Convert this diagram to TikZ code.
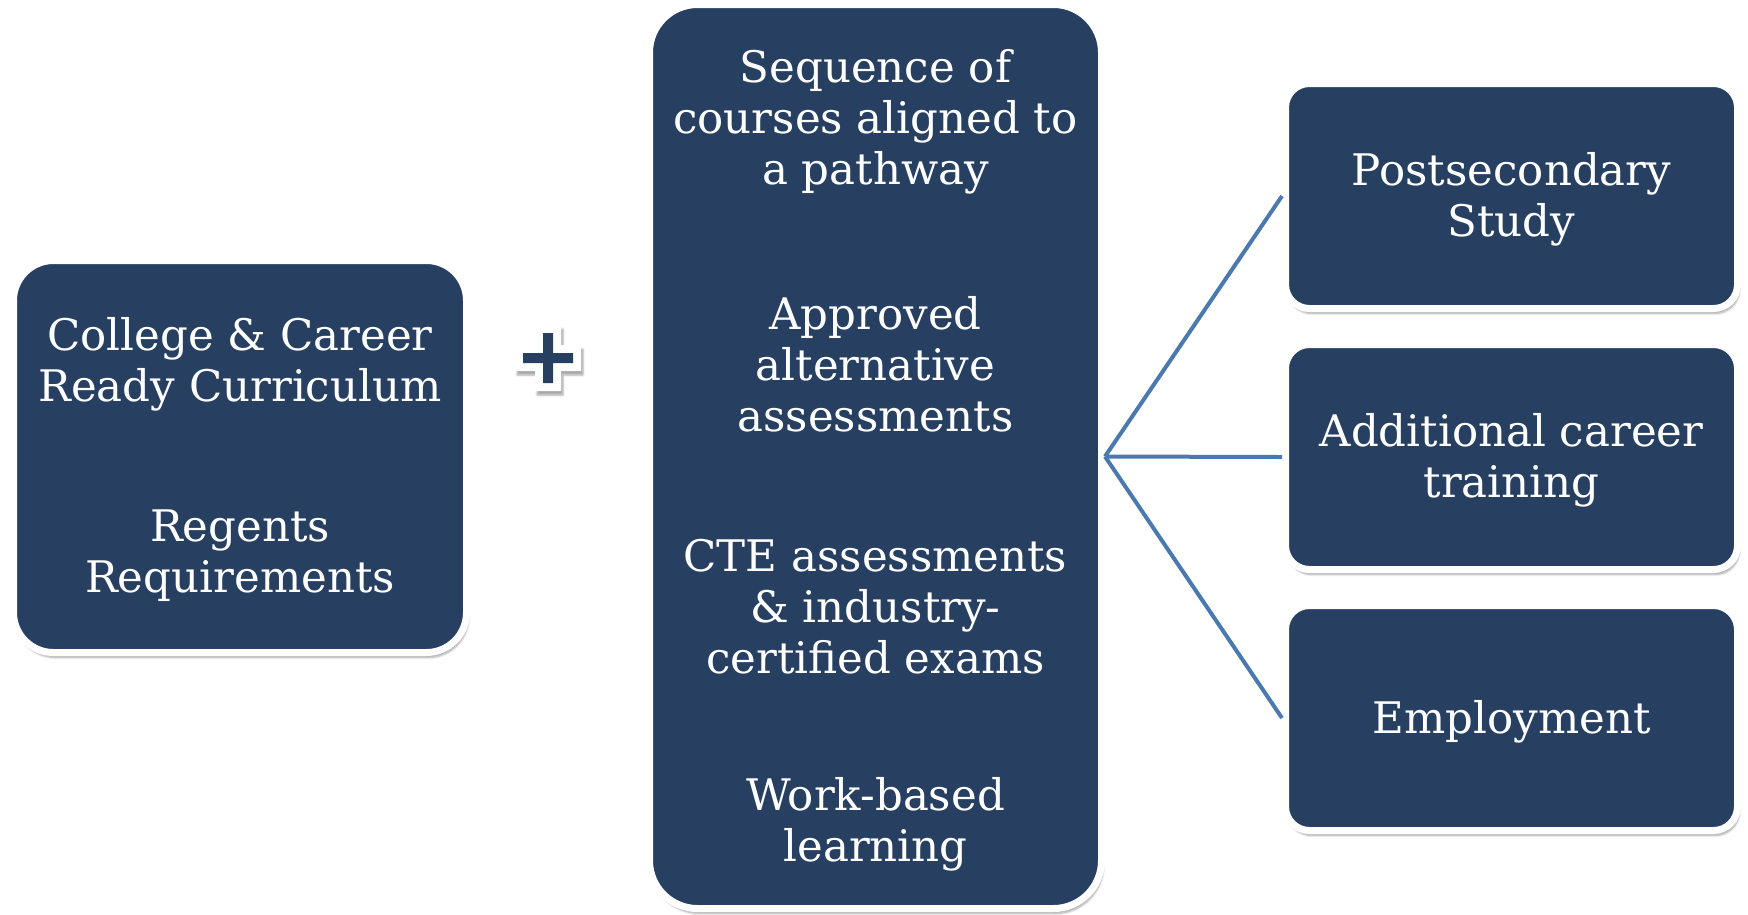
\documentclass[tikz,border=0pt]{standalone}
\usepackage{fontspec}
\setmainfont{DejaVu Serif}
\usetikzlibrary{shadows.blur}
\definecolor{navy}{HTML}{274062}
\definecolor{linkblue}{HTML}{4A79B0}
\tikzset{
  box/.style={draw=white, line width=7pt, fill=navy, rounded corners=#1,
    blur shadow={shadow xshift=2pt, shadow yshift=-5pt, shadow blur steps=6, shadow opacity=35},
    inner sep=0pt},
  boxtext/.style={text=white, align=center, font=\fontsize{43.5}{51}\selectfont, inner sep=0pt},
  link/.style={draw=linkblue, line width=4pt},
  plusshadow/.style={blur shadow={shadow xshift=2pt, shadow yshift=-4pt, shadow blur steps=5, shadow opacity=35}},
}
\begin{document}
\begin{tikzpicture}[x=1pt,y=-1pt]
\useasboundingbox (0,0) rectangle (1748,914);
% boxes
\node[box=40pt, minimum width=453pt, minimum height=392pt] (left) at (240,456.5) {};
\node[box=48pt, minimum width=452pt, minimum height=904pt] (mid) at (875.5,456.5) {};
\node[box=24pt, minimum width=452pt, minimum height=225pt] (post) at (1511.5,196) {};
\node[box=24pt, minimum width=452pt, minimum height=225pt] (addl) at (1511.5,457) {};
\node[box=24pt, minimum width=452pt, minimum height=225pt] (empl) at (1511.5,718) {};
% plus sign
\coordinate (plus) at (548,358);
\begin{scope}[shift={(548,358)}]
\fill[white, plusshadow]
  (-13,-33) -- (13,-33) -- (13,-13) -- (33,-13) -- (33,13) -- (13,13) -- (13,33) -- (-13,33)
  -- (-13,13) -- (-33,13) -- (-33,-13) -- (-13,-13) -- cycle;
\fill[navy]
  (-5,-25) -- (5,-25) -- (5,-5) -- (25,-5) -- (25,5) -- (5,5) -- (5,25) -- (-5,25)
  -- (-5,5) -- (-25,5) -- (-25,-5) -- (-5,-5) -- cycle;
\end{scope}
% texts
\node[boxtext] (t1) at (240,364) {College \& Career\\Ready Curriculum};
\node[boxtext] (t2) at (240,556) {Regents\\Requirements};
\node[boxtext] (m1) at (875.5,122) {Sequence of\\courses aligned to\\a pathway};
\node[boxtext] (m2) at (875.5,364) {Approved\\alternative\\assessments};
\node[boxtext] (m3) at (875.5,607) {CTE assessments\\\& industry-\\certified exams};
\node[boxtext] (m4) at (875.5,824) {Work-based\\learning};
\node[boxtext] (r1) at (1511.5,199) {Postsecondary\\Study};
\node[boxtext] (r2) at (1511.5,460) {Additional career\\training};
\node[boxtext] (r3) at (1511.5,722) {Employment};
% connectors
\draw[link] (mid.east) -- (post.west);
\draw[link] (mid.east) -- (addl.west);
\draw[link] (mid.east) -- (empl.west);
\end{tikzpicture}
\end{document}
